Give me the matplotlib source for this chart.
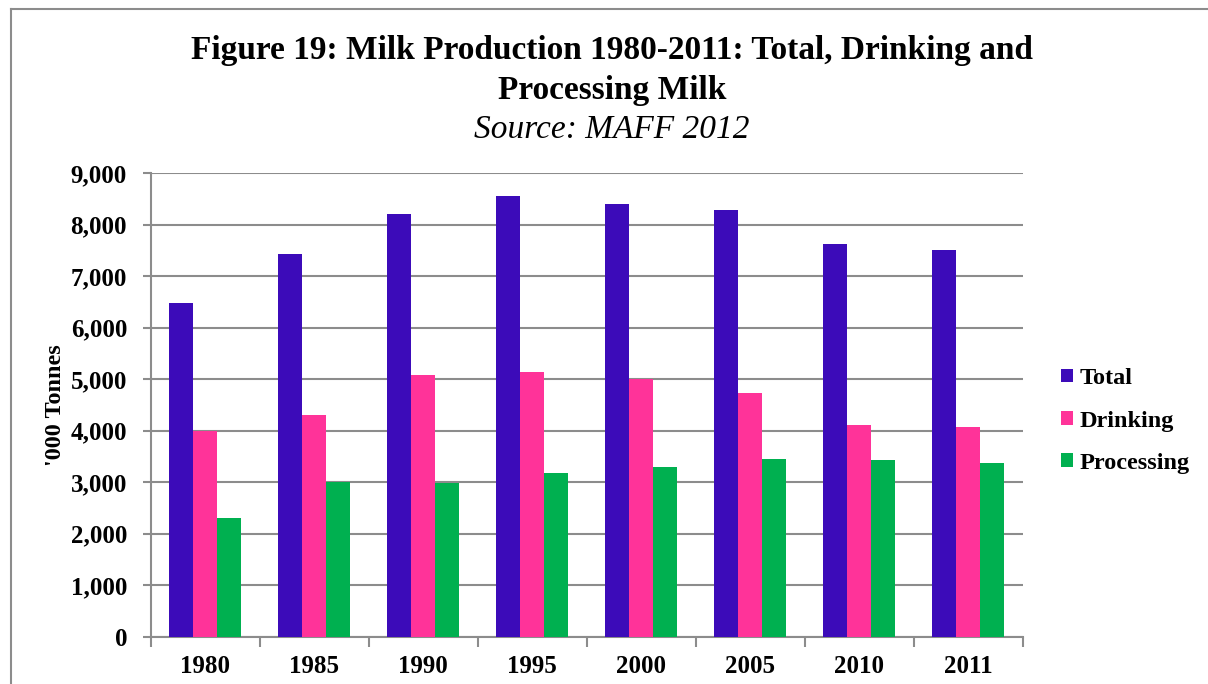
import numpy as np
import matplotlib.pyplot as plt
from matplotlib.lines import Line2D

# Data ('000 tonnes)
years = ['1980', '1985', '1990', '1995', '2000', '2005', '2010', '2011']
total = [6490, 7430, 8200, 8560, 8410, 8290, 7620, 7520]
drinking = [4000, 4300, 5080, 5140, 5000, 4730, 4110, 4070]
processing = [2300, 3000, 2980, 3170, 3300, 3460, 3440, 3370]

series_names = ['Total', 'Drinking', 'Processing']
colors = ['#3C0BB9', '#FF3399', '#00B050']

plt.rcParams['font.family'] = ['Liberation Serif', 'DejaVu Serif']
plt.rcParams['font.weight'] = 'bold'

fig = plt.figure(figsize=(12.08, 6.84), dpi=100)
ax = fig.add_axes([150.7 / 1208, 1 - 636.7 / 684, (1023 - 150.7) / 1208, (636.7 - 173.3) / 684])

x = np.arange(len(years))
w = 0.22
for i, (vals, name, c) in enumerate(zip([total, drinking, processing], series_names, colors)):
    ax.bar(x + (i - 1) * w, vals, width=w, color=c, label=name, zorder=3)

grid_c = '#8C8C8C'
ax.set_xlim(-0.5, len(years) - 0.5)
ax.set_ylim(0, 9000)
ax.set_yticks(np.arange(0, 9001, 1000))
ax.set_yticklabels([f'{v:,}' for v in range(0, 9001, 1000)], fontsize=18, fontweight='bold')
ax.set_xticks(x)
ax.set_xticklabels(years, fontsize=18, fontweight='bold')
ax.set_xticks(np.arange(-0.5, len(years)), minor=True)
ax.tick_params(axis='x', which='major', length=0, pad=13)
ax.tick_params(axis='x', which='minor', length=7, width=1.5, color=grid_c)
ax.tick_params(axis='y', length=6, width=1.5, color=grid_c, pad=11)
ax.yaxis.grid(True, color=grid_c, linewidth=1.5, zorder=0)
ax.set_axisbelow(True)
for s in ['top', 'right']:
    ax.spines[s].set_visible(False)
for s in ['left', 'bottom']:
    ax.spines[s].set_color(grid_c)
    ax.spines[s].set_linewidth(1.5)

ax.set_ylabel("'000 Tonnes", fontsize=17.5, fontweight='bold', labelpad=3)

fig.text(612 / 1208, 1 - 51 / 684, 'Figure 19: Milk Production 1980-2011: Total, Drinking and',
         ha='center', va='center', fontsize=24, fontweight='bold')
fig.text(612 / 1208, 1 - 90 / 684, 'Processing Milk',
         ha='center', va='center', fontsize=24, fontweight='bold')
fig.text(612 / 1208, 1 - 130 / 684, 'Source: MAFF 2012',
         ha='center', va='center', fontsize=24, fontstyle='italic', fontweight='normal')

fig.legend(loc='center left', bbox_to_anchor=(1061 / 1208, 1 - 421 / 684), frameon=False,
           prop={'size': 17.5, 'weight': 'bold'}, handlelength=0.5, handleheight=0.5,
           handletextpad=0.25, labelspacing=0.88, borderpad=0, borderaxespad=0)

# outer chart border (top and left visible)
bc = '#8C8C8C'
fig.add_artist(Line2D([11 / 1208, 11 / 1208], [0, 1 - 9 / 684], color=bc, linewidth=1.5))
fig.add_artist(Line2D([11 / 1208, 1], [1 - 9 / 684, 1 - 9 / 684], color=bc, linewidth=1.5))

fig.savefig('out.png', dpi=100)
